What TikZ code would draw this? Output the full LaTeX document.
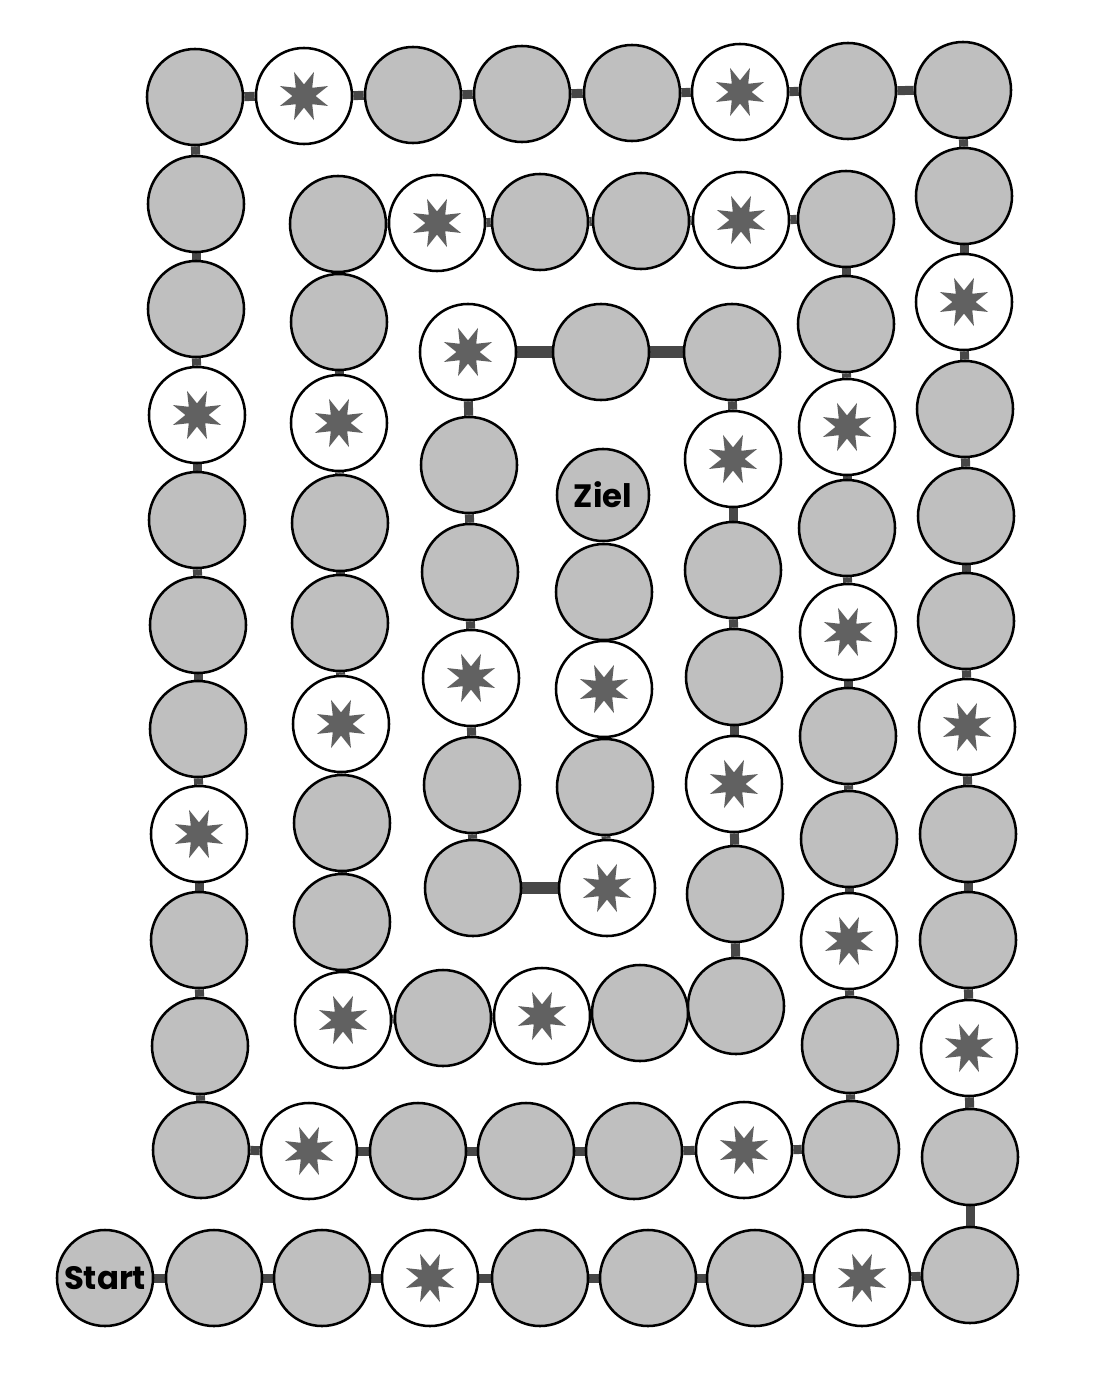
\documentclass[tikz,border=0pt]{standalone}
\usepackage{fontspec}
\newfontfamily\boardfont{Poppins}
\usetikzlibrary{backgrounds}

\tikzset{
  field/.style={circle, draw=black, line width=1.8pt, fill=black!25,
    minimum size=2.4cm, inner sep=0pt,
    font=\boardfont\bfseries\fontsize{23}{23}\selectfont},
  starfield/.style={field, fill=white, path picture={
    \fill[black!62, shift={(path picture bounding box.center)}] (22.5:0.65cm)
      \foreach \k [evaluate=\k as \rr using {isodd(\k) ? 0.29 : 0.65}] in {1,...,15}
        { -- ({22.5+\k*22.5}:\rr cm) } -- cycle;}},
  link/.style={line width=6.4pt, draw=black!72}
}

\begin{document}
\begin{tikzpicture}[x=0.025cm, y=-0.025cm]
\useasboundingbox (0,0) rectangle (1098,1391);
% ================= start and goal =================
\node[field] (start) at (105,1278) {Start};
% ================= fields along the spiral (x/y/star) =================
\foreach \x/\y/\s [count=\i from 2] in {
  214/1278/0, 322/1278/0, 430/1278/1, 540/1278/0, 648/1278/0, 755/1278/0, 862/1278/1, 970/1275/0,
  970/1157/0, 969/1048/1, 968/940/0, 968/834/0, 967/727/1, 966/621/0, 966/516/0, 965/409/0,
  964/302/1, 964/196/0, 963/90/0,
  848/91/0, 740/92/1, 632/93/0, 522/94/0, 413/95/0, 304/96/1, 195/97/0,
  196/204/0, 196/309/0, 197/415/1, 197/520/0, 198/625/0, 198/729/0, 199/834/1, 199/940/0,
  200/1046/0, 201/1150/0,
  309/1151/1, 418/1151/0, 526/1151/0, 634/1151/0, 744/1150/1, 851/1149/0,
  850/1045/0, 849/941/1, 849/839/0, 848/736/0, 848/632/1, 847/528/0, 847/427/1, 846/324/0, 846/219/0,
  741/220/1, 641/221/0, 540/222/0, 437/223/1, 338/224/0,
  339/322/0, 339/423/1, 340/523/0, 340/623/0, 341/724/1, 342/823/0, 342/922/0, 343/1020/1,
  443/1018/0, 542/1016/1, 640/1013/0, 736/1006/0,
  735/894/0, 734/784/1, 734/677/0, 733/570/0, 733/459/1, 732/352/0,
  601/352/0, 468/352/1,
  469/465/0, 470/572/0, 471/678/1, 472/785/0, 473/888/0,
  607/888/1, 605/787/0, 604/689/1, 604/592/0} {
  \ifnum\s=1 \node[starfield] (f\i) at (\x,\y) {};
  \else \node[field] (f\i) at (\x,\y) {};\fi
}
\node[field, minimum size=2.3cm] (goal) at (603,495) {Ziel};
% ================= links behind the fields =================
\begin{scope}[on background layer]
  \draw[link] (start) -- (f2);
  \foreach \i [remember=\i as \j (initially 2)] in {3,...,86}
    \draw[link] (f\j) -- (f\i);
  % wider links of the inner ring
  \draw[link, line width=8.5pt] (f75) -- (f76);
  \draw[link, line width=8.5pt] (f76) -- (f77);
  \draw[link, line width=8.5pt] (f82) -- (f83);
\end{scope}
\end{tikzpicture}
\end{document}
